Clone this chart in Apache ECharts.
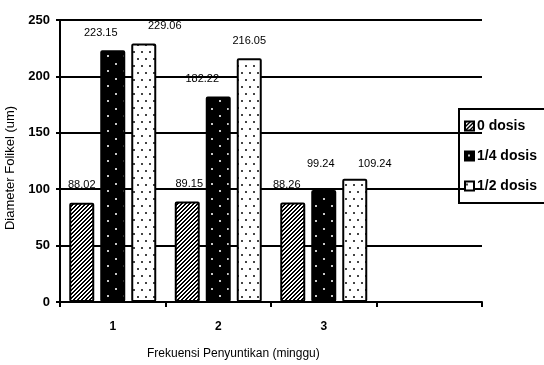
<!DOCTYPE html>
<html>
<head>
<meta charset="utf-8">
<script src="https://cdn.jsdelivr.net/npm/echarts@6/dist/echarts.min.js"></script>
<style>
  html, body { margin: 0; padding: 0; background: #fff; }
  #chart { width: 544px; height: 365px; }
</style>
</head>
<body>
<div id="chart"></div>
<script>
// Follicle diameter per injection frequency, three dose groups
const categories = ['1', '2', '3', ''];
const seriesNames = ['0 dosis', '1/4 dosis', '1/2 dosis'];
const dose0 = [88.02, 89.15, 88.26];
const doseQuarter = [223.15, 182.22, 99.24];
const doseHalf = [229.06, 216.05, 109.24];
const yTicks = { min: 0, max: 250, interval: 50 };

const FONT = '"Liberation Sans", Arial, sans-serif';

// --- fill patterns -------------------------------------------------------
function makeCanvas(w, h, bg) {
  const c = document.createElement('canvas');
  c.width = w; c.height = h;
  const ctx = c.getContext('2d');
  ctx.fillStyle = bg;
  ctx.fillRect(0, 0, w, h);
  return [c, ctx];
}
function hatchPattern() {
  const [c, ctx] = makeCanvas(4, 4, '#ffffff');
  ctx.fillStyle = '#000000';
  for (let y = 0; y < 4; y++) {
    for (let x = 0; x < 4; x++) {
      if ((x + y) % 4 === 0 || (x + y) % 4 === 1) ctx.fillRect(x, y, 1, 1);
    }
  }
  return c;
}
function darkDotPattern() {
  const [c, ctx] = makeCanvas(16, 15, '#000000');
  ctx.fillStyle = '#c8c8c8';
  ctx.fillRect(3, 3, 2, 2);
  ctx.fillRect(11, 10, 2, 2);
  return c;
}
function lightDotPattern() {
  const [c, ctx] = makeCanvas(8, 14, '#ffffff');
  ctx.fillStyle = '#444444';
  ctx.fillRect(1, 2, 2, 2);
  ctx.fillRect(5, 9, 2, 2);
  return c;
}
const fills = [
  { image: hatchPattern(), repeat: 'repeat' },
  { image: darkDotPattern(), repeat: 'repeat' },
  { image: lightDotPattern(), repeat: 'repeat' }
];

// value-label nudges [dx, dy] per bar, to keep labels clear of neighbours
const labelNudge = [
  [[0, 0], [2, 0], [-6, 0]],
  [[-12, 0], [-16, 0], [-3, -9]],
  [[21, 0], [0, 0], [20, 3]]
];

const values = [dose0, doseQuarter, doseHalf];
const series = values.map((vals, i) => ({
  name: seriesNames[i],
  type: 'bar',
  barWidth: 25,
  barGap: '24%',
  data: vals.map((v, j) => ({
    value: v,
    label: { offset: labelNudge[i][j] }
  })),
  itemStyle: {
    color: fills[i],
    borderColor: '#000',
    borderWidth: 2,
    borderRadius: 1
  },
  label: {
    show: true,
    position: 'top',
    distance: 12,
    color: '#000',
    fontFamily: FONT,
    fontSize: 11,
    formatter: p => p.value.toFixed(2)
  }
}));

const chart = echarts.init(document.getElementById('chart'), null, { renderer: 'canvas' });
chart.setOption({
  animation: false,
  backgroundColor: '#fff',
  grid: { left: 60, right: 62, top: 20, bottom: 63, containLabel: false, outerBoundsMode: 'none' },
  legend: {
    orient: 'vertical',
    left: 459,
    top: 109,
    itemWidth: 9,
    itemHeight: 9,
    itemGap: 16,
    padding: [10, 30, 10, 5],
    borderColor: '#000',
    borderWidth: 2,
    icon: 'rect',
    textStyle: { fontFamily: FONT, fontSize: 14, fontWeight: 'bold', color: '#000', padding: [0, 0, 0, -2] },
    data: seriesNames
  },
  xAxis: {
    type: 'category',
    data: categories,
    boundaryGap: true,
    axisLine: { lineStyle: { color: '#000', width: 2 } },
    axisTick: { show: true, length: 5, lineStyle: { color: '#000', width: 2 } },
    axisLabel: { fontFamily: FONT, fontSize: 12, fontWeight: 'bold', color: '#000', margin: 19 }
  },
  yAxis: {
    type: 'value',
    min: yTicks.min,
    max: yTicks.max,
    interval: yTicks.interval,
    name: 'Diameter Folikel (um)',
    nameLocation: 'middle',
    nameGap: 41,
    nameTextStyle: { fontFamily: FONT, fontSize: 13, color: '#000', padding: [0, 0, 0, -14] },
    axisLine: { show: true, lineStyle: { color: '#000', width: 2 } },
    axisTick: { show: true, length: 4, lineStyle: { color: '#000', width: 2 } },
    axisLabel: { fontFamily: FONT, fontSize: 13, fontWeight: 'bold', color: '#000', margin: 10 },
    splitLine: { show: true, lineStyle: { color: '#000', width: 2 } }
  },
  graphic: [{
    type: 'text',
    left: 147,
    top: 348,
    style: { text: 'Frekuensi Penyuntikan (minggu)', font: '12px ' + FONT, fill: '#000' }
  }],
  series: series
});
</script>
</body>
</html>
